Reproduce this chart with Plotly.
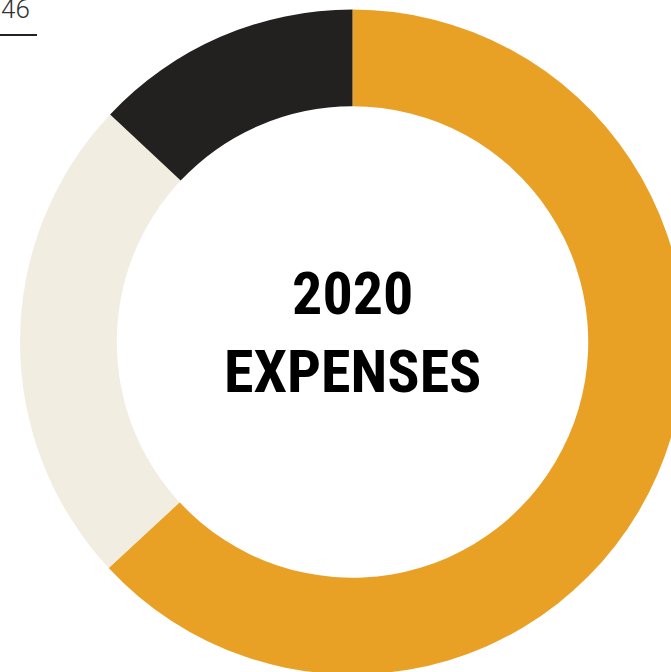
import plotly.graph_objects as go

labels = ["Category A", "Category B", "Category C"]
values = [63.1, 23.9, 13.0]
colors = ["#E8A125", "#F2EDE1", "#222120"]
center_text = "2020<br>EXPENSES"
page_number = "46"

W, H = 705, 684
ML, MR, MT, MB = 20, 20, 9, 9
PW, PH = W - ML - MR, H - MT - MB

def px_x(px):
    return (px - ML) / PW

def px_y(py):
    return 1 - (py - MT) / PH

fig = go.Figure(go.Pie(
    labels=labels,
    values=values,
    hole=0.709,
    sort=False,
    direction="clockwise",
    rotation=0,
    marker=dict(colors=colors, line=dict(width=0)),
    textinfo="none",
    hoverinfo="label+percent",
    showlegend=False,
))

fig.add_annotation(
    text=center_text, x=px_x(352.5), y=px_y(332), xref="paper", yref="paper",
    xanchor="center", yanchor="middle", showarrow=False,
    font=dict(family="'Roboto Condensed', 'DejaVu Sans Condensed', Roboto, sans-serif",
              size=60, color="#000000", weight="bold"),
)
fig.add_annotation(
    text=page_number, x=px_x(-1), y=px_y(26), xref="paper", yref="paper",
    xanchor="left", yanchor="bottom", showarrow=False,
    font=dict(family="Roboto", size=26, color="#333333", weight=300),
)
fig.add_shape(type="line", xref="paper", yref="paper",
              x0=px_x(0), x1=px_x(37), y0=px_y(35), y1=px_y(35),
              line=dict(color="#222222", width=2))

fig.update_layout(
    width=W, height=H,
    margin=dict(l=ML, r=MR, t=MT, b=MB),
    paper_bgcolor="white", plot_bgcolor="white",
)
fig.write_html("out.html", config={"displayModeBar": False},
               post_script="document.body.style.margin='0';")
